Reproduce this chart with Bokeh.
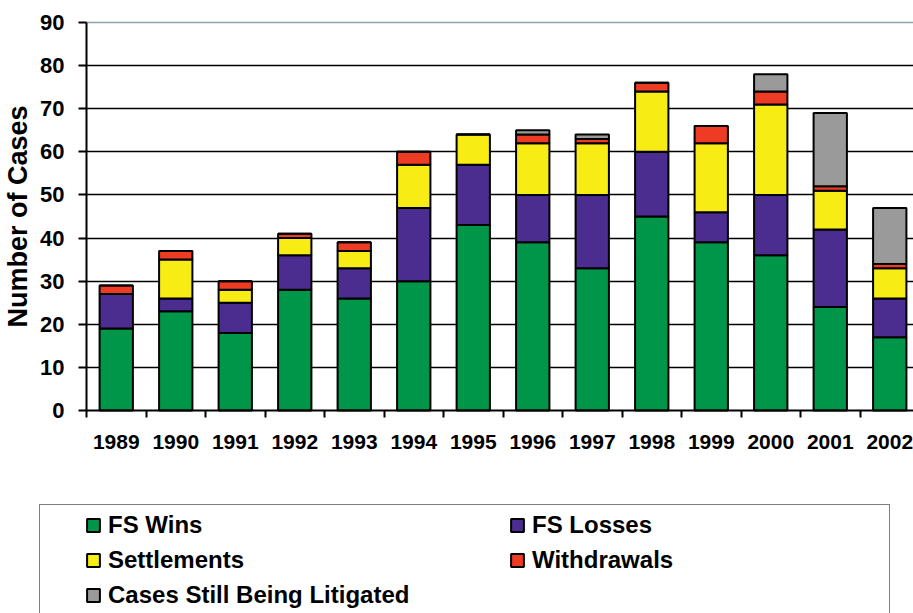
from bokeh.plotting import figure
from bokeh.models import (ColumnDataSource, FixedTicker, Legend, LegendItem, Range1d, Grid)
from bokeh.embed import file_html
from bokeh.resources import INLINE

years = ["1989", "1990", "1991", "1992", "1993", "1994", "1995",
         "1996", "1997", "1998", "1999", "2000", "2001", "2002"]
fs_wins = [19, 23, 18, 28, 26, 30, 43, 39, 33, 45, 39, 36, 24, 17]
fs_losses = [8, 3, 7, 8, 7, 17, 14, 11, 17, 15, 7, 14, 18, 9]
settlements = [0, 9, 3, 4, 4, 10, 7, 12, 12, 14, 16, 21, 9, 7]
withdrawals = [2, 2, 2, 1, 2, 3, 0, 2, 1, 2, 4, 3, 1, 1]
litigated = [0, 0, 0, 0, 0, 0, 0, 1, 1, 0, 0, 4, 17, 13]
y_ticks = [0, 10, 20, 30, 40, 50, 60, 70, 80, 90]

series = ["wins", "losses", "settle", "withdraw", "litig"]
labels = ["FS Wins", "FS Losses", "Settlements", "Withdrawals", "Cases Still Being Litigated"]
colors = ["#00964A", "#4A2D8F", "#F7EC13", "#EE3B23", "#9A9A9A"]

n = len(years)
xs = [i + 0.5 for i in range(n)]
source = ColumnDataSource(dict(x=xs, wins=fs_wins, losses=fs_losses, settle=settlements,
                               withdraw=withdrawals, litig=litigated))

FONT = "Liberation Sans"
W, H = 913, 613
# pixel geometry of the plotting area inside the figure
X0, PX_X = 86, 59.5          # x=0 position, px per category
Y0, PX_Y = 410, 388 / 90.0   # y=0 position, px per case

p = figure(width=W, height=H, output_backend="svg", toolbar_location=None,
           x_range=Range1d(-X0 / PX_X, (W - X0) / PX_X),
           y_range=Range1d(-(H - Y0) / PX_Y, Y0 / PX_Y),
           min_border=0, min_border_left=0, min_border_right=0,
           min_border_top=0, min_border_bottom=0)
p.outline_line_color = None
p.background_fill_color = "white"
p.border_fill_color = "white"

renderers = p.vbar_stack(series, x="x", width=0.56, source=source, color=colors,
                         line_color="black", line_width=2)

# grid
p.xgrid.visible = False
p.ygrid.ticker = FixedTicker(ticks=y_ticks[1:-1])
p.ygrid.grid_line_color = "black"
p.ygrid.grid_line_width = 1.5
p.ygrid.cross_bounds = (0, n)
top_grid = Grid(dimension=1, ticker=FixedTicker(ticks=[y_ticks[-1]]), cross_bounds=(0, n),
                grid_line_color="#8fa3a8", grid_line_width=1.5)
p.add_layout(top_grid)

# y axis
p.yaxis.fixed_location = 0
p.yaxis.bounds = (y_ticks[0], y_ticks[-1])
p.yaxis.ticker = FixedTicker(ticks=y_ticks)
p.yaxis.axis_line_width = 2
p.yaxis.major_tick_line_width = 2
p.yaxis.major_tick_out = 8
p.yaxis.major_tick_in = 0
p.yaxis.minor_tick_line_color = None
p.yaxis.major_label_text_font = FONT
p.yaxis.major_label_text_font_style = "bold"
p.yaxis.major_label_text_font_size = "22px"
p.yaxis.major_label_text_color = "black"
p.yaxis.major_label_standoff = 14
p.yaxis.axis_label = "Number of Cases"
p.yaxis.axis_label_text_font = FONT
p.yaxis.axis_label_text_font_style = "bold"
p.yaxis.axis_label_text_font_size = "27px"
p.yaxis.axis_label_text_color = "black"
p.yaxis.axis_label_standoff = 4

# x axis
p.xaxis.fixed_location = 0
p.xaxis.bounds = (0, n)
p.xaxis.ticker = FixedTicker(ticks=xs, minor_ticks=list(range(n + 1)))
p.xaxis.major_label_overrides = {x: y for x, y in zip(xs, years)}
p.xaxis.axis_line_width = 2
p.xaxis.major_tick_out = 0
p.xaxis.major_tick_in = 0
p.xaxis.minor_tick_out = 7
p.xaxis.minor_tick_in = 0
p.xaxis.minor_tick_line_width = 2
p.xaxis.major_label_text_font = FONT
p.xaxis.major_label_text_font_style = "bold"
p.xaxis.major_label_text_font_size = "21px"
p.xaxis.major_label_text_color = "black"
p.xaxis.major_label_standoff = 17

# legend box (frame only)
dummy = p.rect(x=[], y=[], width=[], height=[], fill_alpha=0, line_alpha=0)
box = Legend(items=[LegendItem(label=" ", renderers=[dummy])], location=(39, -33),
             padding=0, margin=0, glyph_width=1, glyph_height=1, label_standoff=0,
             label_width=848, label_height=140, label_text_font_size="8px",
             border_line_color="black", border_line_width=1.5, background_fill_alpha=0)
p.add_layout(box, "center")

legend = Legend(items=[LegendItem(label=l, renderers=[r]) for l, r in zip(labels, renderers)],
                location=(85, 3), orientation="horizontal", ncols=2,
                padding=0, margin=0, spacing=5, glyph_width=16, glyph_height=16,
                label_standoff=7, label_width=396, label_height=30,
                label_text_font=FONT, label_text_font_style="bold",
                label_text_font_size="24px", label_text_color="black",
                border_line_alpha=0, background_fill_alpha=0)
p.add_layout(legend, "center")

open("out.html", "w").write(file_html(p, INLINE))
